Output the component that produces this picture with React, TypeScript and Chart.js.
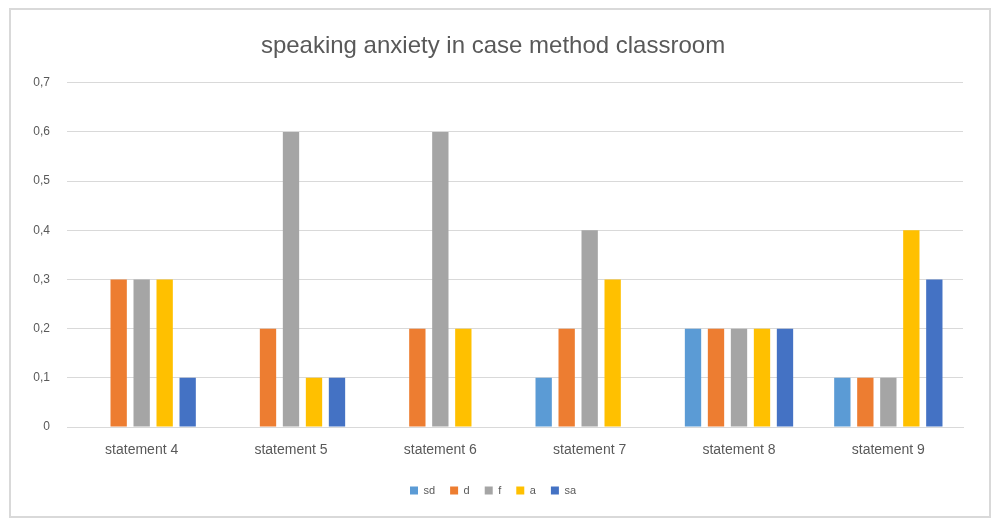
import React, { useEffect, useRef } from "react";
import { Chart, registerables } from "chart.js";

Chart.register(...registerables);

const chartTitle = "speaking anxiety in case method classroom";
const categories = ["statement 4", "statement 5", "statement 6", "statement 7", "statement 8", "statement 9"];
const seriesNames = ["sd", "d", "f", "a", "sa"];
const sdValues = [0, 0, 0, 0.1, 0.2, 0.1];
const dValues = [0.3, 0.2, 0.2, 0.2, 0.2, 0.1];
const fValues = [0.3, 0.6, 0.6, 0.4, 0.2, 0.1];
const aValues = [0.3, 0.1, 0.2, 0.3, 0.2, 0.4];
const saValues = [0.1, 0.1, 0, 0, 0.2, 0.3];
const seriesColors = ["#5B9BD5", "#ED7D31", "#A5A5A5", "#FFC000", "#4472C4"];
const yMax = 0.7;
const yStep = 0.1;

const FONT = "'Liberation Sans', Arial, sans-serif";
const TEXT = "#595959";

export default function App() {
  const canvasRef = useRef<HTMLCanvasElement | null>(null);

  useEffect(() => {
    if (!canvasRef.current) return;
    const values = [sdValues, dValues, fValues, aValues, saValues];
    const chart = new Chart(canvasRef.current, {
      type: "bar",
      data: {
        labels: categories,
        datasets: seriesNames.map((name, i) => ({
          label: name,
          data: values[i],
          backgroundColor: seriesColors[i],
          borderWidth: 0,
          categoryPercentage: 0.77,
          barPercentage: 0.71,
        })),
      },
      options: {
        responsive: false,
        animation: false,
        layout: { padding: { left: 23, right: 39, top: 0, bottom: 20 } },
        plugins: {
          title: {
            display: true,
            text: chartTitle,
            color: TEXT,
            font: { family: FONT, size: 24, weight: "normal" },
            padding: { top: 32, bottom: 22 },
          },
          legend: {
            position: "bottom",
            labels: {
              color: TEXT,
              font: { family: FONT, size: 11 },
              boxWidth: 8,
              boxHeight: 8,
              padding: 15,
            },
          },
          tooltip: { enabled: false },
        },
        scales: {
          x: {
            grid: { display: false, drawTicks: false },
            border: { display: true, color: "#d9d9d9" },
            ticks: {
              color: TEXT,
              font: { family: FONT, size: 14 },
              padding: 15,
            },
            afterFit: (scale: any) => {
              scale.height = 43;
            },
          },
          y: {
            min: 0,
            max: yMax,
            grid: { color: "#d9d9d9", drawTicks: false },
            border: { display: false },
            ticks: {
              stepSize: yStep,
              color: TEXT,
              font: { family: FONT, size: 12 },
              padding: 17,
              callback: (v: any) => {
                const n = Math.round(Number(v) * 10) / 10;
                return String(n).replace(".", ",");
              },
            },
            afterFit: (scale: any) => {
              scale.width = 44;
            },
          },
        },
      },
    });
    return () => chart.destroy();
  }, []);

  return (
    <div style={{ position: "fixed", left: 0, top: 0, width: 1002, height: 526, background: "#fff" }}>
      <div
        style={{
          position: "absolute",
          left: 9,
          top: 8,
          width: 982,
          height: 510,
          border: "2px solid #d9d9d9",
          boxSizing: "border-box",
        }}
      />
      <canvas
        ref={canvasRef}
        width={1002}
        height={526}
        style={{ position: "absolute", left: 0, top: 0, width: 1002, height: 526 }}
      />
    </div>
  );
}
